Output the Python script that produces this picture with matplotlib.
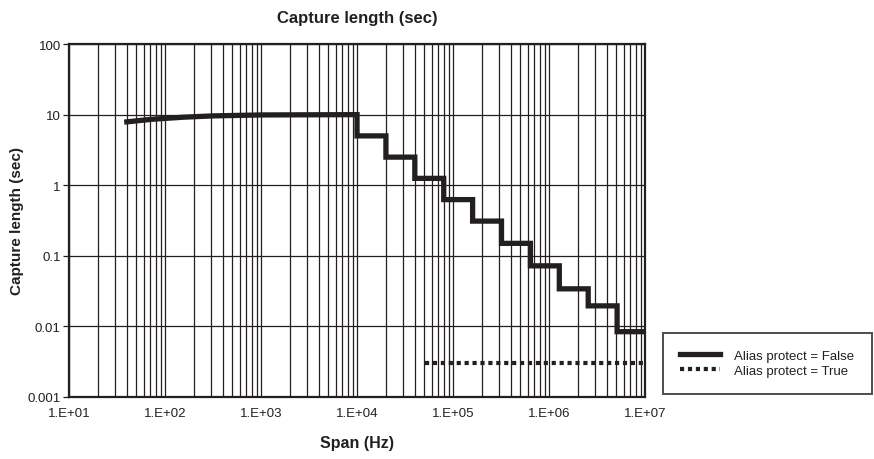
import matplotlib
matplotlib.use("Agg")
import matplotlib.pyplot as plt
from matplotlib.ticker import LogLocator, FixedLocator, NullFormatter

plt.rcParams['font.family'] = ['Liberation Sans', 'DejaVu Sans']

# alias protect = False: smooth rise at low spans, then halving steps
span_low = [40, 73, 155, 316, 1000, 10000]
cap_low = [7.9, 8.6, 9.2, 9.6, 9.9, 10.0]

step_edges = [1.0e4, 2.0e4, 4.0e4, 8.0e4, 1.6e5, 3.2e5, 6.4e5, 1.28e6, 2.56e6, 5.12e6, 1.0e7]
step_vals = [5.0, 2.5, 1.25, 0.625, 0.31, 0.15, 0.072, 0.034, 0.0195, 0.0084]

# alias protect = True
span_true = [5.1e4, 1.0e7]
cap_true = [0.003, 0.003]

x_ticks = [1e1, 1e2, 1e3, 1e4, 1e5, 1e6, 1e7]
x_labels = ["1.E+01", "1.E+02", "1.E+03", "1.E+04", "1.E+05", "1.E+06", "1.E+07"]
y_ticks = [0.001, 0.01, 0.1, 1, 10, 100]
y_labels = ["0.001", "0.01", "0.1", "1", "10", "100"]

ink = "#231f20"

fig = plt.figure(figsize=(8.74, 4.6), dpi=100)
ax = fig.add_axes([0.079, 0.135, 0.659, 0.767])

# build the step path from edges and values
xs = list(span_low)
ys = list(cap_low)
for i, v in enumerate(step_vals):
    xs += [step_edges[i], step_edges[i + 1]]
    ys += [v, v]

ax.plot(xs, ys, color=ink, lw=3.8, solid_joinstyle="miter",
        label="Alias protect = False", zorder=3)
ax.plot(span_true, cap_true, color=ink, lw=3.0, linestyle=(0, (1.0, 0.9)),
        dash_capstyle="butt", label="Alias protect = True", zorder=3)

ax.set_xscale("log")
ax.set_yscale("log")
ax.set_xlim(1e1, 1e7)
ax.set_ylim(1e-3, 1e2)

ax.xaxis.set_major_locator(FixedLocator(x_ticks))
ax.xaxis.set_minor_locator(LogLocator(base=10, subs=range(2, 10), numticks=20))
ax.xaxis.set_minor_formatter(NullFormatter())
ax.set_xticklabels(x_labels)
ax.yaxis.set_major_locator(FixedLocator(y_ticks))
ax.yaxis.set_minor_locator(FixedLocator([]))
ax.set_yticklabels(y_labels)

ax.grid(True, which="both", axis="x", color=ink, lw=0.9)
ax.grid(True, which="major", axis="y", color=ink, lw=0.9)
ax.tick_params(axis="x", which="both", length=0, labelsize=9.5, pad=7, colors=ink)
ax.tick_params(axis="y", which="major", length=4, width=0.9, labelsize=9.5, pad=2, colors=ink)
for s in ax.spines.values():
    s.set_linewidth(1.6)
    s.set_color(ink)

ax.set_title("Capture length (sec)", fontsize=12, fontweight="bold", pad=16, color=ink)
ax.set_xlabel("Span (Hz)", fontsize=11.5, fontweight="bold", labelpad=12, color=ink)
ax.set_ylabel("Capture length (sec)", fontsize=11, fontweight="bold", color=ink)
ax.yaxis.set_label_coords(-0.078, 0.5)

leg = fig.legend(loc="lower left", bbox_to_anchor=(663 / 874, 1 - 395 / 460),
                 bbox_transform=fig.transFigure, frameon=True, fancybox=False,
                 fontsize=9.5, handlelength=3.0, handletextpad=1.1, borderpad=1.3,
                 labelspacing=0.2, borderaxespad=0)
leg.get_frame().set_edgecolor(ink)
leg.get_frame().set_linewidth(1.4)
for t in leg.get_texts():
    t.set_color(ink)

fig.savefig("out.png", dpi=100)
